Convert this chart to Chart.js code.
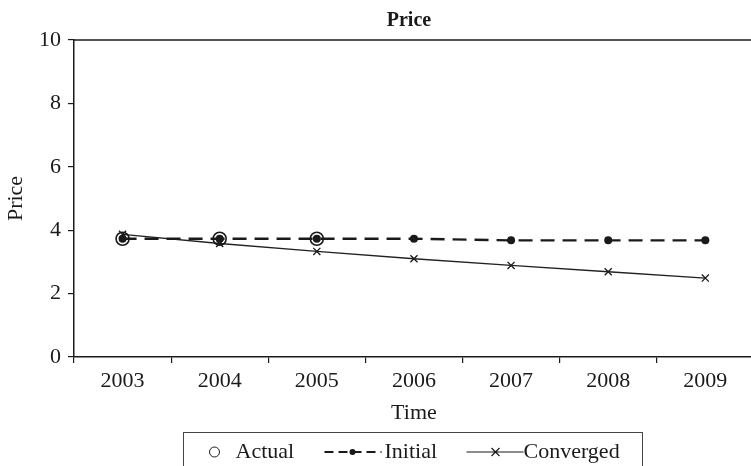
<!DOCTYPE html>
<html>
<head>
<meta charset="utf-8">
<script src="https://cdn.jsdelivr.net/npm/chart.js@4/dist/chart.umd.min.js"></script>
<style>
  html, body { margin: 0; padding: 0; overflow: hidden; background: #fff; }
  #wrap { position: absolute; left: 0; top: 0; width: 762px; height: 466px; }
</style>
</head>
<body>
<div id="wrap"><canvas id="chart"></canvas></div>
<script>
// values
const years = ['2003', '2004', '2005', '2006', '2007', '2008', '2009'];
const actual = [3.73, 3.73, 3.73, null, null, null, null];
const initial = [3.73, 3.73, 3.73, 3.73, 3.68, 3.68, 3.68];
const converged = [3.87, 3.58, 3.33, 3.10, 2.89, 2.69, 2.49];
const yTicks = [0, 2, 4, 6, 8, 10];

const ink = '#1a1a1a';
const serif = '"Liberation Serif", "Times New Roman", serif';

// title over the plot, top edge of the plot box, boxed legend under the x axis title
const boxPlugin = {
    id: 'boxLegend',
    afterDraw(chart) {
        const ctx = chart.ctx;
        const a = chart.chartArea;
        ctx.save();
        ctx.fillStyle = ink;
        ctx.font = 'bold 20px ' + serif;
        ctx.textAlign = 'center';
        ctx.textBaseline = 'middle';
        ctx.fillText('Price', (a.left + a.right) / 2 - 5, 21);

        ctx.strokeStyle = ink;
        ctx.lineWidth = 1.5;
        ctx.beginPath();
        ctx.moveTo(a.left, a.top);
        ctx.lineTo(a.right, a.top);
        ctx.stroke();

        const left = a.left + 109.5;
        const top = 432.5;
        const midY = 452;
        ctx.lineWidth = 1;
        ctx.strokeStyle = '#444';
        ctx.strokeRect(left, top, 459, 60);

        ctx.strokeStyle = ink;
        ctx.font = '22px ' + serif;
        ctx.textAlign = 'left';

        // Actual: open circle
        ctx.lineWidth = 1;
        ctx.beginPath();
        ctx.arc(left + 31, midY, 5, 0, Math.PI * 2);
        ctx.stroke();
        ctx.fillText('Actual', left + 52, midY);

        // Initial: dashed line with dot
        ctx.lineWidth = 2;
        ctx.setLineDash([9, 5]);
        ctx.beginPath();
        ctx.moveTo(left + 141, midY);
        ctx.lineTo(left + 198, midY);
        ctx.stroke();
        ctx.setLineDash([]);
        ctx.beginPath();
        ctx.arc(left + 169, midY, 3, 0, Math.PI * 2);
        ctx.fill();
        ctx.fillText('Initial', left + 201, midY);

        // Converged: solid line with cross
        ctx.lineWidth = 1.2;
        ctx.beginPath();
        ctx.moveTo(left + 283, midY);
        ctx.lineTo(left + 340, midY);
        ctx.moveTo(left + 308, midY - 4);
        ctx.lineTo(left + 316, midY + 4);
        ctx.moveTo(left + 308, midY + 4);
        ctx.lineTo(left + 316, midY - 4);
        ctx.stroke();
        ctx.fillText('Converged', left + 340, midY);
        ctx.restore();
    }
};

new Chart(document.getElementById('chart'), {
    type: 'line',
    data: {
        labels: years,
        datasets: [{
            label: 'Actual',
            data: actual,
            showLine: false,
            pointStyle: 'circle',
            pointRadius: 6.5,
            pointBorderWidth: 1.6,
            pointBorderColor: ink,
            pointBackgroundColor: 'rgba(0,0,0,0)'
        }, {
            label: 'Initial',
            data: initial,
            borderColor: ink,
            borderWidth: 2.4,
            borderDash: [14, 8],
            pointStyle: 'circle',
            pointRadius: 4,
            pointBorderWidth: 0,
            pointBackgroundColor: ink
        }, {
            label: 'Converged',
            data: converged,
            borderColor: '#222',
            borderWidth: 1.3,
            pointStyle: 'crossRot',
            pointRadius: 5,
            pointBorderWidth: 1.3,
            pointBorderColor: ink
        }]
    },
    options: {
        responsive: true,
        maintainAspectRatio: false,
        animation: false,
        layout: { padding: { left: 0, right: 3.5, top: 40, bottom: 39 } },
        plugins: {
            legend: { display: false },
            tooltip: { enabled: false },
            title: { display: false }
        },
        scales: {
            x: {
                offset: true,
                grid: { offset: true, drawOnChartArea: false, tickLength: 6, color: ink, lineWidth: 1.2 },
                border: { color: ink, width: 1.5 },
                ticks: { color: ink, font: { family: serif, size: 22 }, padding: 5, maxRotation: 0 },
                title: {
                    display: true, text: 'Time', color: ink,
                    font: { family: serif, size: 22 }, padding: { top: 0, bottom: 1 }
                },
                afterFit(scale) { scale.height = 70; }
            },
            y: {
                min: 0,
                max: 10,
                afterBuildTicks(scale) { scale.ticks = yTicks.map(v => ({ value: v })); },
                grid: { drawOnChartArea: false, tickLength: 6, color: ink, lineWidth: 1.2 },
                border: { color: ink, width: 1.5 },
                ticks: { color: ink, font: { family: serif, size: 22 }, padding: 7 },
                title: {
                    display: true, text: 'Price', color: ink,
                    font: { family: serif, size: 22 }, padding: { top: 3, bottom: 0 }
                },
                afterFit(scale) { scale.width = 74; }
            }
        }
    },
    plugins: [boxPlugin]
});
</script>
</body>
</html>
